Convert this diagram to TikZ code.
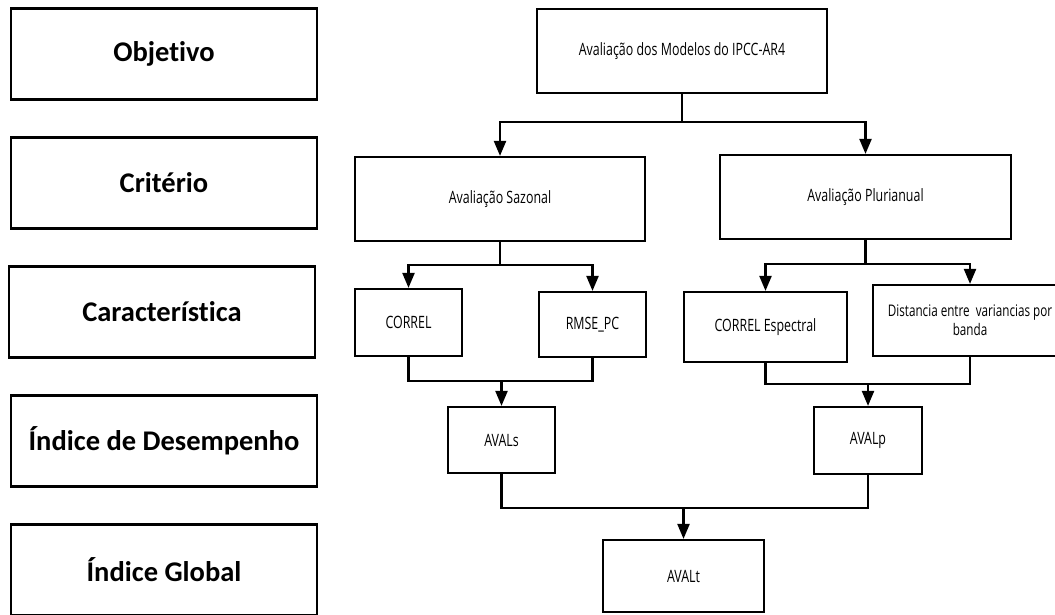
\documentclass[tikz,border=0pt]{standalone}
\usepackage{fontspec}
\setmainfont{Open Sans}[FakeStretch=0.73]
\newfontfamily\lblfont{Carlito}[Ligatures=NoCommon]
\usetikzlibrary{arrows.meta}
\tikzset{
  lbl/.style={draw, line width=2.7pt, minimum width=306pt, minimum height=91pt, inner sep=0pt,
    font=\lblfont\bfseries\fontsize{28.5}{32}\selectfont},
  rbox/.style={draw, line width=2.2pt, inner sep=0pt, align=center,
    font=\fontsize{17}{19.5}\selectfont},
  conn/.style={line width=2.2pt},
  arr/.style={line width=2.2pt, -{Triangle[width=12pt,length=15pt]}}
}
\begin{document}
\begin{tikzpicture}[x=1pt,y=-1pt]
\useasboundingbox (0,0) rectangle (1055,614);
\clip (0,0) rectangle (1055,614);
\fill[white] (0,0) rectangle (1055,614);
% left column
\node[lbl] (lobj)  at (164,54)  {Objetivo};
\node[lbl] (lcrit) at (164,183) {Critério};
\node[lbl] (lcar)  at (162,312) {Característica};
\node[lbl] (lind)  at (164,441) {Índice de Desempenho};
\node[lbl] (lglo)  at (164,570) {Índice Global};
% right tree
\node[rbox, minimum width=290pt, minimum height=84pt] (top) at (682,51) {Avaliação dos Modelos do IPCC-AR4};
\node[rbox, minimum width=290pt, minimum height=84pt] (saz) at (500,199) {Avaliação Sazonal};
\node[rbox, minimum width=291pt, minimum height=84pt] (plu) at (865.5,197) {Avaliação Plurianual};
\node[rbox, minimum width=107pt, minimum height=67pt] (correl) at (408.5,322.5) {CORREL};
\node[rbox, minimum width=107pt, minimum height=65pt] (rmse) at (592.5,324.5) {RMSE\_PC};
\node[rbox, minimum width=163pt, minimum height=70pt] (cesp) at (765.5,327) {CORREL Espectral};
\node[rbox, minimum width=194pt, minimum height=71pt, font=\fontsize{16}{19}\selectfont] (dist) at (970,320.5) {Distancia entre\ \ variancias por\\banda};
\node[rbox, minimum width=107pt, minimum height=66pt] (avals) at (501.5,440) {AVALs};
\node[rbox, minimum width=108pt, minimum height=67pt] (avalp) at (868,440.5) {AVALp};
\node[rbox, minimum width=161pt, minimum height=72pt] (avalt) at (683.5,576) {AVALt};
% junctions
\coordinate (j1) at (682,122);
\coordinate (j2) at (500,265);
\coordinate (j3) at (865.5,264);
\coordinate (j4) at (501.5,381);
\coordinate (j5) at (868,384);
\coordinate (j6) at (683.5,508);
% connectors
\draw[conn] (top.south) -- (j1);
\draw[arr] (j1) -| (saz.north);
\draw[arr] (j1) -| (plu.north);
\draw[conn] (saz.south) -- (j2);
\draw[arr] (j2) -| (correl.north);
\draw[arr] (j2) -| (rmse.north);
\draw[conn] (plu.south) -- (j3);
\draw[arr] (j3) -| (cesp.north);
\draw[arr] (j3) -| (dist.north);
\draw[conn] (correl.south) |- (j4) -| (rmse.south);
\draw[arr] (j4) -- (avals.north);
\draw[conn] (cesp.south) |- (j5) -| (dist.south);
\draw[arr] (j5) -- (avalp.north);
\draw[conn] (avals.south) |- (j6) -| (avalp.south);
\draw[arr] (j6) -- (avalt.north);
\end{tikzpicture}
\end{document}
